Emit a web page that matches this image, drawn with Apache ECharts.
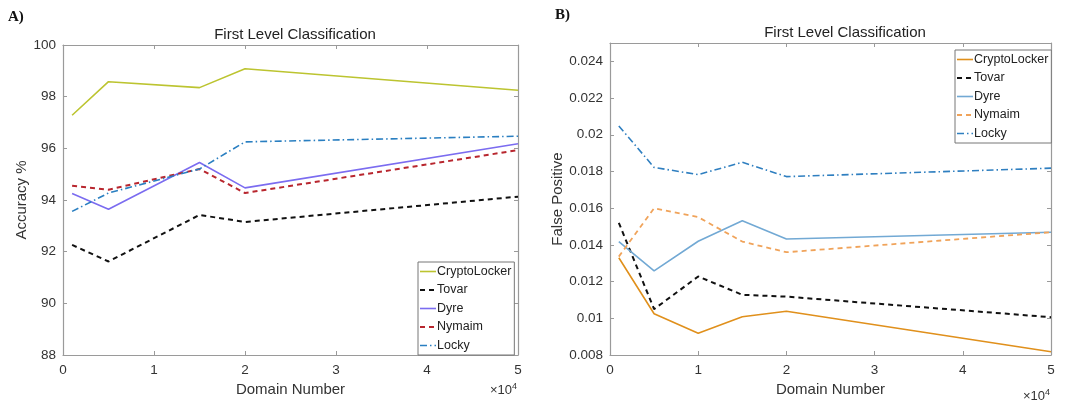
<!DOCTYPE html>
<html>
<head>
<meta charset="utf-8">
<script src="https://cdn.jsdelivr.net/npm/echarts@6/dist/echarts.min.js"></script>
<style>
  html, body { margin: 0; padding: 0; background: #fff; }
  #chart { width: 1073px; height: 402px; }
</style>
</head>
<body>
<div id="chart"></div>
<script>
// panel A: accuracy, domain numbers
var accX = [1000, 5000, 15000, 20000, 50000];
var accCrypto = [97.28, 98.58, 98.35, 99.08, 98.25];
var accTovar = [92.26, 91.62, 93.42, 93.15, 94.13];
var accDyre = [94.25, 93.64, 95.45, 94.47, 96.18];
var accNymaim = [94.55, 94.4, 95.2, 94.27, 95.93];
var accLocky = [93.56, 94.27, 95.2, 96.25, 96.47];

// panel B: false positive
var fpX = [1000, 5000, 10000, 15000, 20000, 50000];
var fpCrypto = [0.0133, 0.01025, 0.00918, 0.01008, 0.01038, 0.00818];
var fpTovar = [0.0152, 0.0105, 0.01228, 0.01128, 0.01118, 0.01006];
var fpDyre = [0.01418, 0.01258, 0.0142, 0.01532, 0.01432, 0.01469];
var fpNymaim = [0.01336, 0.016, 0.01551, 0.01418, 0.0136, 0.01469];
var fpLocky = [0.02048, 0.01822, 0.01783, 0.0185, 0.01772, 0.01818];

var names = ["CryptoLocker", "Tovar", "Dyre", "Nymaim", "Locky"];

var dashDot = [7, 3, 1.5, 3];
var dash = [5, 4];
// colour, dash, width per family, one list per panel
var stylesA = [
  ["#bcc430", "solid", 1.6],
  ["#111111", dash, 2],
  ["#7b6cf0", "solid", 1.6],
  ["#b8262e", dash, 2],
  ["#2a7fc1", dashDot, 1.6],
];
var stylesB = [
  ["#e0901c", "solid", 1.6],
  ["#111111", dash, 2],
  ["#72a9d4", "solid", 1.6],
  ["#f0a35a", dash, 1.8],
  ["#2f7fc0", dashDot, 1.6],
];

function pairs(xs, ys) {
  return xs.map(function (x, i) { return [x, ys[i]]; });
}

var font = "Liberation Sans";

function line(name, xs, ys, idx, st) {
  return {
    name: name,
    type: "line",
    xAxisIndex: idx,
    yAxisIndex: idx,
    data: pairs(xs, ys),
    symbol: "none",
    animation: false,
    lineStyle: { color: st[0], type: st[1], width: st[2] },
    itemStyle: { color: st[0] },
  };
}

function xAx(grid, top) {
  return {
    type: "value",
    gridIndex: grid,
    position: top ? "top" : "bottom",
    min: 0,
    max: 50000,
    interval: 10000,
    axisLine: { show: true, onZero: false, lineStyle: { color: "#9a9a9a", width: 1.2 } },
    axisTick: { show: true, inside: true, length: 4, lineStyle: { color: "#9a9a9a" } },
    splitLine: { show: false },
    axisLabel: {
      show: !top,
      color: "#333",
      fontFamily: font,
      fontSize: 13.5,
      margin: 8,
      formatter: function (v) { return String(v / 10000); },
    },
    name: top ? "" : "Domain Number",
    nameLocation: "middle",
    nameGap: 27,
    nameTextStyle: { color: "#333", fontFamily: font, fontSize: 15 },
  };
}

function yAx(grid, right, min, max, step, title, fmt) {
  return {
    type: "value",
    gridIndex: grid,
    position: right ? "right" : "left",
    min: min,
    max: max,
    interval: step,
    axisLine: { show: true, onZero: false, lineStyle: { color: "#9a9a9a", width: 1.2 } },
    axisTick: { show: true, inside: true, length: 4, lineStyle: { color: "#9a9a9a" } },
    splitLine: { show: false },
    axisLabel: {
      show: !right,
      color: "#333",
      fontFamily: font,
      fontSize: 13.5,
      margin: 7,
      showMaxLabel: grid === 0,
      formatter: fmt,
    },
    name: right ? "" : title,
    nameLocation: "middle",
    nameGap: grid === 0 ? 31 : 41,
    nameTextStyle: { color: "#333", fontFamily: font, fontSize: 15 },
  };
}

function legend(left, top, styles) {
  return {
    data: names.map(function (n, i) {
      var st = styles[i];
      return { name: n, lineStyle: { color: st[0], type: st[1], width: st[2] } };
    }),
    orient: "vertical",
    left: left,
    top: top,
    itemWidth: 16,
    itemHeight: 12,
    itemGap: 5.5,
    padding: [3, 3, 3, 1],
    borderColor: "#777",
    borderWidth: 1,
    backgroundColor: "#fff",
    itemStyle: { opacity: 0 },
    textStyle: { fontFamily: font, fontSize: 12.5, color: "#222", padding: [0, 0, 0, -4] },
  };
}

var series = [];
[accCrypto, accTovar, accDyre, accNymaim, accLocky].forEach(function (ys, i) {
  series.push(line(names[i], accX, ys, 0, stylesA[i]));
});
[fpCrypto, fpTovar, fpDyre, fpNymaim, fpLocky].forEach(function (ys, i) {
  series.push(line(names[i], fpX, ys, 2, stylesB[i]));
});

var chart = echarts.init(document.getElementById("chart"));
chart.setOption({
  backgroundColor: "#fff",
  animation: false,
  title: [
    { text: "First Level Classification", left: 290, top: 22, textAlign: "center",
      textStyle: { fontFamily: font, fontSize: 15, fontWeight: "normal", color: "#222" } },
    { text: "First Level Classification", left: 840, top: 20, textAlign: "center",
      textStyle: { fontFamily: font, fontSize: 15, fontWeight: "normal", color: "#222" } },
  ],
  grid: [
    { left: 63, top: 45, width: 455, height: 313 },
    { left: 610, top: 43, width: 441, height: 317 },
  ],
  legend: [legend(418, 262, stylesA), legend(955, 50, stylesB)],
  xAxis: [xAx(0, false), xAx(0, true), xAx(1, false), xAx(1, true)],
  yAxis: [
    yAx(0, false, 88, 100, 2, "Accuracy %", function (v) { return String(v); }),
    yAx(0, true, 88, 100, 2, "", null),
    yAx(1, false, 0.008, 0.025, 0.002, "False Positive", function (v) { return String(+v.toFixed(3)); }),
    yAx(1, true, 0.008, 0.025, 0.002, "", null),
  ],
  series: series,
  graphic: [
    { type: "text", left: 8, top: 10,
      style: { text: "A)", fontFamily: "Liberation Serif", fontWeight: "bold", fontSize: 15, fill: "#111" } },
    { type: "text", left: 555, top: 8,
      style: { text: "B)", fontFamily: "Liberation Serif", fontWeight: "bold", fontSize: 15, fill: "#111" } },
    { type: "text", left: 490, top: 382,
      style: { text: "×10{s|4}", fontFamily: font, fontSize: 13, fill: "#333",
        rich: { s: { fontSize: 9, verticalAlign: "top", padding: [0, 0, 8, 0], fill: "#333" } } } },
    { type: "text", left: 1023, top: 388,
      style: { text: "×10{s|4}", fontFamily: font, fontSize: 13, fill: "#333",
        rich: { s: { fontSize: 9, verticalAlign: "top", padding: [0, 0, 8, 0], fill: "#333" } } } },
  ],
});
</script>
</body>
</html>
